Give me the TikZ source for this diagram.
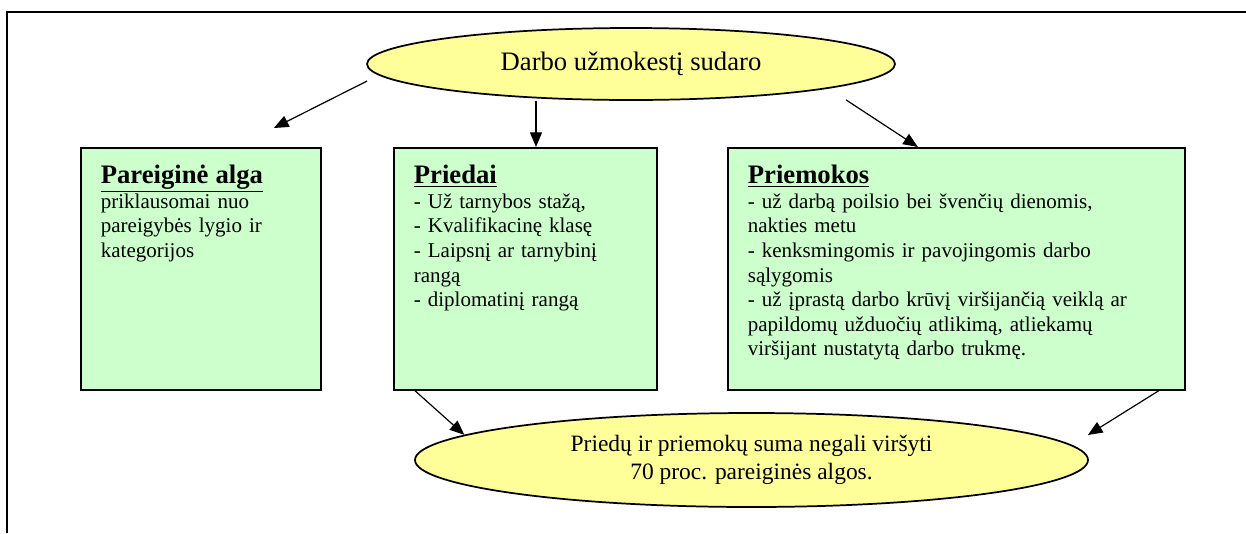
\documentclass[tikz,border=0pt]{standalone}
\usepackage{fontspec}
\setmainfont{Liberation Serif}
\usetikzlibrary{arrows.meta, shapes.geometric}

\definecolor{boxgreen}{HTML}{CCFFCC}
\definecolor{ovalyellow}{HTML}{FFFF99}
\newcommand{\boxtitle}[1]{{\fontsize{20}{18.4}\selectfont\bfseries\underline{#1}}}

\begin{document}
\begin{tikzpicture}[x=0.75pt, y=-0.75pt,
    box/.style={draw, line width=1.3pt, fill=boxgreen, anchor=north west, align=left,
                inner xsep=15pt, inner ysep=0pt, text height=27pt, text depth=154.5pt,
                font=\fontsize{15.75}{18.4}\selectfont},
    oval/.style={draw, ellipse, line width=1.3pt, fill=ovalyellow, inner sep=0pt,
                 align=center},
    arrow/.style={-{Triangle[length=11pt, width=9pt]}, line width=0.9pt}
  ]
  \useasboundingbox (0,0) rectangle (1246,533);
  % frame
  \draw[line width=1.4pt] (7,533) -- (7,12) -- (1246,12);

  \node[oval, minimum width=396pt, minimum height=54pt,
        font=\fontsize{20}{24}\selectfont] (darbo) at (631,64)
    {Darbo užmokestį sudaro};

  \node[box, text width=150pt] (pareig) at (80,147)
    {\boxtitle{Pareiginė alga}\\
     priklausomai nuo\\
     pareigybės lygio ir\\
     kategorijos};
  \node[box, text width=167.25pt] (priedai) at (393,147)
    {\boxtitle{Priedai}\\
     - Už tarnybos stažą,\\
     - Kvalifikacinę klasę\\
     - Laipsnį ar tarnybinį\\
     rangą\\
     - diplomatinį rangą};
  \node[box, text width=312.75pt] (priemokos) at (727,147)
    {\boxtitle{Priemokos}\\
     - už darbą poilsio bei švenčių dienomis,\\
     nakties metu\\
     - kenksmingomis ir pavojingomis darbo\\
     sąlygomis\\
     - už įprastą darbo krūvį viršijančią veiklą ar\\
     papildomų užduočių atlikimą, atliekamų\\
     viršijant nustatytą darbo trukmę.};

  \node[oval, minimum width=504.75pt, minimum height=70.5pt,
        font=\fontsize{17.6}{20.5}\selectfont] (suma) at (751.5,460)
    {Priedų ir priemokų suma negali viršyti\\70 proc. pareiginės algos.};

  \coordinate (down) at ([shift={(-95,0)}]darbo.south);
  \draw[arrow] ([shift={(1,17)}]darbo.west) -- ([shift={(73,-19)}]pareig.north);
  \draw[arrow] (down) -- (down |- priedai.north);
  \draw[arrow] ([shift={(215,-1)}]darbo.south) -- ([shift={(-38.5,0)}]priemokos.north);
  \draw[arrow] ([shift={(22,0)}]priedai.south west) -- (suma.175);
  \draw[arrow] ([shift={(-27,0)}]priemokos.south east) -- ([shift={(-1,-25)}]suma.east);
\end{tikzpicture}
\end{document}
